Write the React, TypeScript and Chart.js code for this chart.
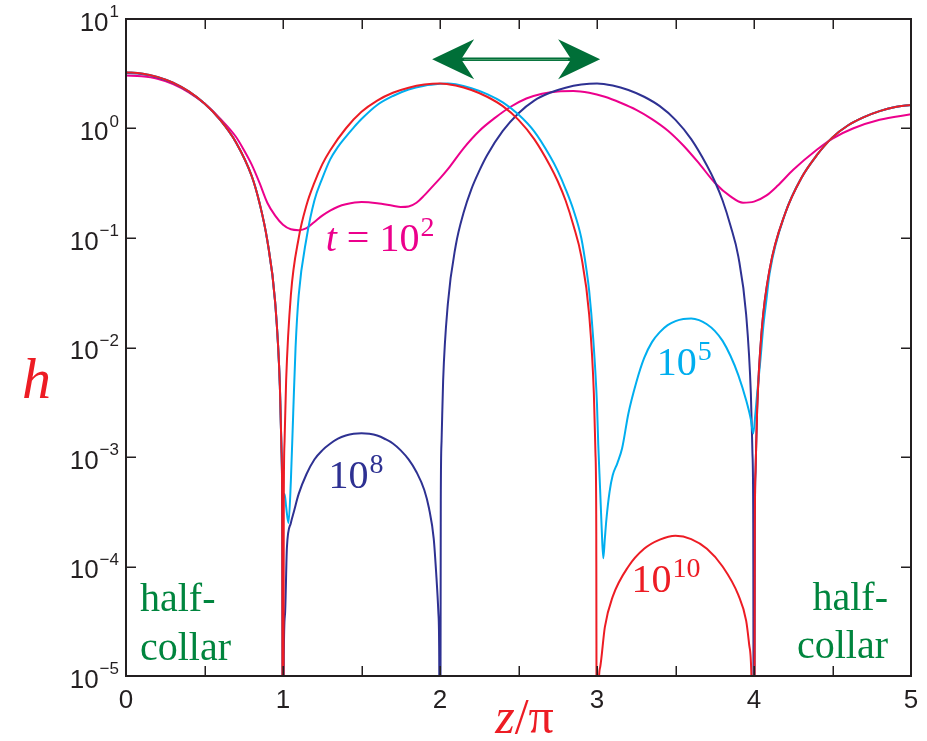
import React, { useEffect, useRef } from "react";
import { Chart, registerables } from "chart.js";

Chart.register(...registerables);

// Profiles h(z) at four times; zeros are represented by a tiny value below the axis floor.
const zRed = [0, 0.1, 0.2, 0.3, 0.4, 0.5, 0.6, 0.7, 0.8, 0.85, 0.9, 0.95, 0.98, 0.99, 0.995, 1.0,
  1.005, 1.01, 1.02, 1.05, 1.1, 1.15, 1.2, 1.25, 1.3, 1.4, 1.5, 1.6, 1.7, 1.8, 1.9, 2.0, 2.1, 2.2, 2.3, 2.4, 2.5, 2.6, 2.7, 2.75, 2.8, 2.85, 2.9, 2.95, 2.98, 2.99, 2.995, 3.0,
  3.008, 3.02, 3.05, 3.1, 3.2, 3.3, 3.4, 3.5, 3.6, 3.7, 3.8, 3.9, 3.95, 3.97, 3.985, 4.0,
  4.005, 4.01, 4.02, 4.05, 4.1, 4.2, 4.3, 4.4, 4.5, 4.6, 4.7, 4.8, 4.9, 5.0];
const hRed = [3.26, 3.18, 2.96, 2.62, 2.18, 1.69, 1.2, 0.75, 0.37, 0.21, 0.095, 0.026, 4.5e-3, 1.2e-3, 3.3e-4, 1e-8,
  4e-4, 1.4e-3, 5e-3, 0.03, 0.1, 0.2, 0.32, 0.47, 0.63, 1.0, 1.42, 1.8, 2.12, 2.36, 2.52, 2.58, 2.47, 2.25, 1.95, 1.6, 1.2, 0.8, 0.46, 0.33, 0.22, 0.13, 0.068, 0.02, 3.8e-3, 1.1e-3, 3e-4, 1e-8,
  6e-6, 1.2e-5, 2.8e-5, 5.3e-5, 1.0e-4, 1.45e-4, 1.76e-4, 1.91e-4, 1.78e-4, 1.45e-4, 1.0e-4, 5.5e-5, 3.2e-5, 1.9e-5, 8e-6, 1e-8,
  2.1e-4, 7.5e-4, 2.7e-3, 0.0148, 0.052, 0.17, 0.35, 0.57, 0.83, 1.07, 1.27, 1.44, 1.57, 1.64];

const zBlue = [0, 0.1, 0.2, 0.3, 0.4, 0.5, 0.6, 0.7, 0.8, 0.85, 0.9, 0.95, 0.98, 0.99, 0.995, 1.0,
  1.005, 1.013, 1.025, 1.05, 1.07, 1.1, 1.15, 1.2, 1.25, 1.3, 1.35, 1.4, 1.45, 1.5, 1.55, 1.6, 1.65, 1.7, 1.75, 1.8, 1.85, 1.9, 1.93, 1.96, 1.975, 1.99, 1.995, 2.0,
  2.005, 2.01, 2.02, 2.05, 2.1, 2.15, 2.2, 2.25, 2.3, 2.4, 2.5, 2.6, 2.7, 2.8, 2.9, 3.0, 3.1, 3.2, 3.3, 3.4, 3.5, 3.6, 3.7, 3.75, 3.8, 3.85, 3.9, 3.95, 3.98, 3.99, 3.995, 4.0,
  4.005, 4.01, 4.02, 4.05, 4.1, 4.2, 4.3, 4.4, 4.5, 4.6, 4.7, 4.8, 4.9, 5.0];
const hBlue = [3.22, 3.15, 2.94, 2.61, 2.17, 1.69, 1.2, 0.75, 0.37, 0.21, 0.095, 0.026, 4.5e-3, 1.2e-3, 3.3e-4, 1e-8,
  1.5e-5, 3.7e-5, 1.5e-4, 2.5e-4, 3.2e-4, 4.6e-4, 7e-4, 9.5e-4, 1.15e-3, 1.32e-3, 1.47e-3, 1.57e-3, 1.63e-3, 1.65e-3, 1.63e-3, 1.57e-3, 1.46e-3, 1.33e-3, 1.15e-3, 9.5e-4, 7.3e-4, 5e-4, 3.4e-4, 1.8e-4, 9e-5, 3.7e-5, 1.5e-5, 1e-8,
  4e-4, 1.4e-3, 5e-3, 0.025, 0.085, 0.17, 0.28, 0.41, 0.57, 0.95, 1.38, 1.8, 2.12, 2.36, 2.52, 2.58, 2.47, 2.25, 1.95, 1.6, 1.2, 0.8, 0.46, 0.33, 0.22, 0.13, 0.068, 0.02, 3.8e-3, 1.1e-3, 3e-4, 1e-8,
  2.1e-4, 7.5e-4, 2.7e-3, 0.0148, 0.052, 0.17, 0.35, 0.57, 0.83, 1.07, 1.27, 1.44, 1.57, 1.64];

const zCyan = [0, 0.1, 0.2, 0.3, 0.4, 0.5, 0.6, 0.7, 0.8, 0.85, 0.9, 0.95, 0.98, 0.99,
  1.0, 1.01, 1.02, 1.035, 1.05, 1.065, 1.08, 1.1,
  1.15, 1.2, 1.25, 1.3, 1.35, 1.4, 1.45, 1.5, 1.6, 1.7, 1.8, 1.9, 2.0, 2.05,
  2.1, 2.2, 2.3, 2.4, 2.5, 2.6, 2.7, 2.75, 2.8, 2.85, 2.9, 2.934, 2.95, 2.976, 3.0, 3.008, 3.02, 3.03, 3.04,
  3.05, 3.06, 3.08, 3.1, 3.13, 3.16, 3.2, 3.25, 3.3, 3.35, 3.4, 3.45, 3.5, 3.55, 3.6, 3.65, 3.7, 3.75, 3.8, 3.85, 3.9, 3.95, 3.98, 3.995,
  4.01, 4.02, 4.04, 4.06, 4.08, 4.1, 4.2, 4.3, 4.4, 4.5, 4.6, 4.7, 4.8, 4.9, 5.0];
const hCyan = [3.26, 3.18, 2.96, 2.62, 2.18, 1.69, 1.2, 0.75, 0.37, 0.21, 0.095, 0.026, 4.5e-3, 1.2e-3,
  4.2e-4, 4.6e-4, 3.5e-4, 2.5e-4, 6e-4, 2.5e-3, 0.01, 0.03,
  0.1, 0.22, 0.35, 0.52, 0.68, 0.84, 1.02, 1.22, 1.64, 1.98, 2.27, 2.46, 2.56, 2.58,
  2.53, 2.33, 2.06, 1.73, 1.34, 0.94, 0.56, 0.41, 0.28, 0.18, 0.1, 0.05, 0.033, 0.012, 3e-3, 1.3e-3, 5e-4, 2.2e-4, 1.19e-4,
  1.8e-4, 2.7e-4, 4.8e-4, 6.8e-4, 8.8e-4, 1.2e-3, 2.5e-3, 4.8e-3, 8e-3, 0.0112, 0.0138, 0.016, 0.0174, 0.0182, 0.0184, 0.0178, 0.0163, 0.0142, 0.0115, 8.4e-3, 5.6e-3, 3.3e-3, 2.2e-3, 1.64e-3,
  2.6e-3, 3.8e-3, 7.5e-3, 0.016, 0.028, 0.048, 0.17, 0.35, 0.57, 0.83, 1.07, 1.27, 1.44, 1.57, 1.64];

const zMagenta = [0, 0.1, 0.2, 0.3, 0.4, 0.5, 0.6, 0.7, 0.75, 0.8, 0.85, 0.9, 0.95, 1.0, 1.05, 1.1, 1.15, 1.2, 1.25, 1.3,
  1.35, 1.4, 1.5, 1.6, 1.7, 1.75, 1.8, 1.85, 1.9, 1.95, 2.0, 2.05, 2.15, 2.25, 2.35, 2.45, 2.55, 2.65, 2.75, 2.85,
  2.95, 3.05, 3.15, 3.25, 3.35, 3.45, 3.55, 3.65, 3.75, 3.85, 3.93, 4.0, 4.08, 4.15, 4.25, 4.4, 4.5, 4.63, 4.8, 5.0];
const hMagenta = [3.05, 3.0, 2.85, 2.55, 2.14, 1.69, 1.23, 0.84, 0.64, 0.47, 0.32, 0.21, 0.16, 0.132, 0.12, 0.118, 0.123, 0.14, 0.16, 0.178,
  0.193, 0.203, 0.213, 0.208, 0.197, 0.192, 0.194, 0.21, 0.245, 0.293, 0.35, 0.425, 0.66, 0.95, 1.25, 1.58, 1.88, 2.08, 2.18, 2.2,
  2.12, 1.95, 1.72, 1.48, 1.22, 0.96, 0.7, 0.48, 0.32, 0.24, 0.21, 0.215, 0.245, 0.3, 0.42, 0.64, 0.81, 1.0, 1.2, 1.35];

// Axis ticks
const xTickValues = [0, 0.5, 1, 1.5, 2, 2.5, 3, 3.5, 4, 4.5, 5];
const xTickLabels = ["0", "1", "2", "3", "4", "5"];
const yTickExponents = [1, 0, -1, -2, -3, -4, -5];

// Curve labels, anchored at the left end of the base text on its baseline
const curveLabels = [
  { prefix: "t", base: " = 10", exp: "2", z: 1.272, h: 0.0766, color: "#ec008c" },
  { prefix: "", base: "10", exp: "8", z: 1.29, h: 5.2e-4, color: "#2e3192" },
  { prefix: "", base: "10", exp: "5", z: 3.38, h: 5.6e-3, color: "#00aeef" },
  { prefix: "", base: "10", exp: "10", z: 3.22, h: 5.9e-5, color: "#ed1c24" },
];

// Shift arrow between the two humps
const arrowFromZ = 1.95;
const arrowToZ = 3.02;
const arrowH = 4.3;

const INK = "#231f20";
const GREEN = "#00853e";
const ARROW_GREEN = "#006f38";
const SERIF = "'Liberation Serif', 'Times New Roman', serif";
const SANS = "'Liberation Sans', Arial, Helvetica, sans-serif";

const pts = (zs: number[], hs: number[]) => zs.map((z, i) => ({ x: z, y: hs[i] }));

function drawArrowHead(ctx: CanvasRenderingContext2D, tipX: number, y: number, dir: number) {
  const len = 42, half = 20, notch = 13;
  ctx.beginPath();
  ctx.moveTo(tipX, y);
  ctx.lineTo(tipX + dir * len, y - half);
  ctx.lineTo(tipX + dir * (len - notch), y);
  ctx.lineTo(tipX + dir * len, y + half);
  ctx.closePath();
  ctx.fill();
}

const overlayPlugin = {
  id: "overlay",
  afterDatasetsDraw(chart: any) {
    const { ctx, chartArea: a, scales } = chart;
    const x = scales.x, y = scales.y;
    ctx.save();

    // Double-headed arrow
    const ax1 = x.getPixelForValue(arrowFromZ);
    const ax2 = x.getPixelForValue(arrowToZ);
    const ay = y.getPixelForValue(arrowH);
    ctx.strokeStyle = ARROW_GREEN;
    ctx.lineWidth = 3.5;
    ctx.beginPath();
    ctx.moveTo(ax1 + 25, ay);
    ctx.lineTo(ax2 - 25, ay);
    ctx.stroke();
    ctx.strokeStyle = "#4fa170";
    ctx.lineWidth = 1;
    ctx.beginPath();
    ctx.moveTo(ax1 + 32, ay + 0.5);
    ctx.lineTo(ax2 - 32, ay + 0.5);
    ctx.stroke();
    ctx.fillStyle = ARROW_GREEN;
    drawArrowHead(ctx, ax1, ay, 1);
    drawArrowHead(ctx, ax2, ay, -1);

    // Curve labels
    ctx.textBaseline = "alphabetic";
    ctx.textAlign = "left";
    for (const lab of curveLabels) {
      let px = x.getPixelForValue(lab.z);
      const py = y.getPixelForValue(lab.h);
      ctx.fillStyle = lab.color;
      if (lab.prefix) {
        ctx.font = `italic 40px ${SERIF}`;
        ctx.fillText(lab.prefix, px, py);
        px += ctx.measureText(lab.prefix).width;
      }
      ctx.font = `40px ${SERIF}`;
      ctx.fillText(lab.base, px, py);
      px += ctx.measureText(lab.base).width;
      ctx.font = `28px ${SERIF}`;
      ctx.fillText(lab.exp, px + 1, py - 15);
    }

    // "half-collar" notes at both ends
    ctx.fillStyle = GREEN;
    ctx.font = `40px ${SERIF}`;
    ctx.textAlign = "left";
    ctx.fillText("half-", a.left + 14, a.bottom - 65);
    ctx.fillText("collar", a.left + 14, a.bottom - 16);
    ctx.textAlign = "right";
    ctx.fillText("half-", a.right - 23, a.bottom - 66);
    ctx.fillText("collar", a.right - 23, a.bottom - 18);

    // Frame
    ctx.strokeStyle = INK;
    ctx.lineWidth = 2;
    ctx.strokeRect(a.left, a.top, a.right - a.left, a.bottom - a.top);

    // Inward ticks
    ctx.lineWidth = 1.5;
    ctx.beginPath();
    for (const v of xTickValues) {
      const px = Math.round(x.getPixelForValue(v)) + 0.25;
      ctx.moveTo(px, a.bottom);
      ctx.lineTo(px, a.bottom - 10);
      ctx.moveTo(px, a.top);
      ctx.lineTo(px, a.top + 10);
    }
    for (const e of yTickExponents) {
      const py = Math.round(y.getPixelForValue(Math.pow(10, e))) + 0.25;
      ctx.moveTo(a.left, py);
      ctx.lineTo(a.left + 10, py);
      ctx.moveTo(a.right, py);
      ctx.lineTo(a.right - 10, py);
    }
    ctx.stroke();

    // Tick labels
    ctx.fillStyle = INK;
    ctx.textAlign = "center";
    ctx.font = `26px ${SANS}`;
    xTickLabels.forEach((t) => {
      ctx.fillText(t, x.getPixelForValue(Number(t)), a.bottom + 32);
    });
    ctx.textAlign = "left";
    for (const e of yTickExponents) {
      const py = y.getPixelForValue(Math.pow(10, e));
      const expText = e < 0 ? "\u2212" + Math.abs(e) : String(e);
      ctx.font = `26px ${SANS}`;
      const wb = ctx.measureText("10").width;
      ctx.font = `17px ${SANS}`;
      const we = ctx.measureText(expText).width;
      const start = a.left - 7 - (wb + we + 1);
      ctx.font = `26px ${SANS}`;
      ctx.fillText("10", start, py + 11.5);
      ctx.font = `17px ${SANS}`;
      ctx.fillText(expText, start + wb + 1, py - 2);
    }

    // Axis titles
    ctx.fillStyle = "#ed1c24";
    ctx.font = `italic 58px ${SERIF}`;
    ctx.textAlign = "left";
    ctx.fillText("h", a.left - 104, a.top + 379);

    const cx = (a.left + a.right) / 2 + 6;
    const by = a.bottom + 57;
    ctx.font = `italic 50px ${SERIF}`;
    const wz = ctx.measureText("z").width;
    ctx.font = `50px ${SERIF}`;
    const ws = ctx.measureText("/").width;
    const wp = ctx.measureText("\u03c0").width;
    let tx = cx - (wz + ws + wp) / 2;
    ctx.font = `italic 50px ${SERIF}`;
    ctx.fillText("z", tx, by);
    tx += wz;
    ctx.font = `50px ${SERIF}`;
    ctx.fillText("/", tx, by);
    tx += ws;
    ctx.fillText("\u03c0", tx, by);

    ctx.restore();
  },
};

export default function App() {
  const canvasRef = useRef<HTMLCanvasElement | null>(null);

  useEffect(() => {
    const canvas = canvasRef.current;
    if (!canvas) return;
    const line = (data: { x: number; y: number }[], color: string, order: number) => ({
      data,
      borderColor: color,
      borderWidth: 2,
      pointRadius: 0,
      fill: false,
      cubicInterpolationMode: "monotone" as const,
      order,
    });
    const chart = new Chart(canvas, {
      type: "line",
      data: {
        datasets: [
          line(pts(zRed, hRed), "#ed1c24", 0),
          line(pts(zCyan, hCyan), "#00aeef", 1),
          line(pts(zBlue, hBlue), "#2e3192", 2),
          line(pts(zMagenta, hMagenta), "#ec008c", 3),
        ],
      },
      options: {
        animation: false,
        responsive: false,
        devicePixelRatio: 1,
        parsing: false as any,
        layout: { padding: { left: 126, right: 16, top: 19, bottom: 65 } },
        plugins: { legend: { display: false }, tooltip: { enabled: false } },
        scales: {
          x: { type: "linear", min: 0, max: 5, display: false },
          y: { type: "logarithmic", min: 1e-5, max: 10, display: false },
        },
      },
      plugins: [overlayPlugin],
    });
    return () => chart.destroy();
  }, []);

  return (
    <div style={{ position: "absolute", left: 0, top: 0, width: 927, height: 741, background: "#fff" }}>
      <canvas ref={canvasRef} width={927} height={741} />
    </div>
  );
}
